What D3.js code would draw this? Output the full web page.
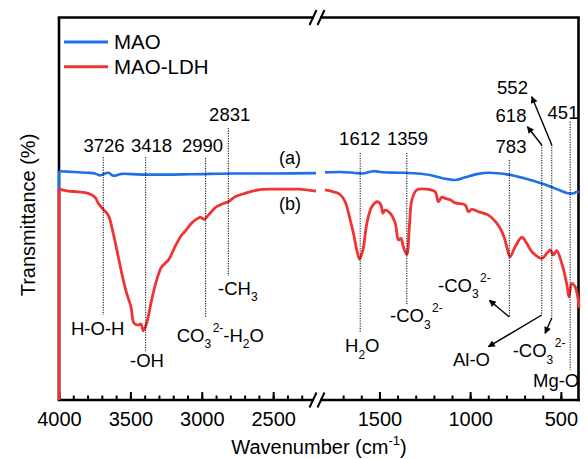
<!DOCTYPE html>
<html>
<head>
<meta charset="utf-8">
<script src="https://cdn.jsdelivr.net/npm/d3@7"></script>
<style>
  body { margin: 0; background: #fff; }
  svg { font-family: 'Liberation Sans', Arial, sans-serif; }
</style>
</head>
<body>
<svg width="588" height="459"></svg>
<script>
// [wavenumber, transmittance (a.u.)]
const maoLeft = [[4000, 0], [4000, 59.9], [3900, 59.7], [3797, 59.5], [3748, 59.3], [3713, 58.8],
  [3655, 59.5], [3620, 58.7], [3561, 59.2], [3420, 59.0], [3080, 59.1], [2800, 59.3], [2500, 59.3], [2200, 59.4]];
const maoRight = [[1800, 59.6], [1717, 59.7], [1643, 59.5], [1588, 59.3], [1533, 59.9], [1478, 59.6],
  [1386, 59.5], [1294, 59.3], [1221, 58.9], [1147, 58.0], [1083, 57.6], [1028, 58.3], [955, 59.2],
  [899, 59.5], [789, 59.0], [697, 58.0], [605, 56.7], [532, 55.4], [459, 54.1], [431, 54.1], [412, 54.5], [400, 54.3]];
const ldhLeft = [[4000, 0], [4000, 55.2], [3935, 54.7], [3865, 54.5], [3795, 54.1], [3748, 53.1], [3725, 51.5],
  [3690, 49.9], [3655, 48.4], [3620, 43.6], [3585, 37.5], [3550, 31.4], [3526, 27.9], [3496, 24.4],
  [3475, 20.1], [3445, 19.6], [3426, 19.9], [3410, 18.1], [3386, 20.1], [3351, 26.2], [3316, 31.4],
  [3281, 34.9], [3234, 36.6], [3188, 40.1], [3141, 43.2], [3118, 44.1], [3071, 46.3], [3012, 47.8],
  [2982, 47.3], [2954, 48.4], [2896, 50.6], [2837, 51.6], [2814, 51.9], [2767, 53.2], [2697, 54.1],
  [2604, 55.0], [2510, 55.2], [2417, 55.2], [2324, 55.2], [2200, 54.7]];
const ldhRight = [[1800, 55.0], [1753, 54.5], [1717, 53.8], [1689, 51.9], [1661, 47.1], [1643, 43.6],
  [1625, 39.3], [1610, 36.9], [1591, 39.3], [1569, 46.3], [1542, 50.6], [1511, 51.9], [1492, 51.1],
  [1481, 48.9], [1469, 49.7], [1441, 48.9], [1413, 46.3], [1395, 41.9], [1382, 42.3], [1368, 40.1],
  [1349, 38.1], [1335, 45.4], [1321, 52.4], [1294, 55.0], [1239, 55.2], [1193, 54.5], [1175, 51.9],
  [1156, 53.1], [1138, 52.8], [1110, 52.4], [1083, 51.6], [1028, 51.1], [1010, 49.3], [991, 49.9],
  [955, 49.3], [899, 48.4], [853, 46.3], [817, 43.2], [798, 40.1], [780, 37.5], [752, 40.1], [715, 42.6],
  [688, 41.0], [660, 38.8], [605, 37.1], [577, 38.4], [559, 39.3], [541, 38.0], [523, 39.1], [495, 35.8],
  [468, 30.5], [455, 27.0], [440, 30.5], [422, 29.7], [404, 26.2], [400, 24.1]];

const leftTicks = [4000, 3900, 3800, 3700, 3600, 3500, 3400, 3300, 3200, 3100, 3000, 2900, 2800, 2700, 2600, 2500, 2400, 2300];
const rightTicks = [1700, 1600, 1500, 1400, 1300, 1200, 1100, 1000, 900, 800, 700, 600, 500];
const leftLabels = [4000, 3500, 3000, 2500];
const rightLabels = [1500, 1000, 500];

const peakLabels = ['3726', '3418', '2990', '2831', '1612', '1359', '783', '618', '552', '451'];
const peakPos = [3690, 3393, 2973, 2814, 1606, 1349, 784, 605, 550, 449];
const groupLabels = [
  [['H-O-H']],
  [['-OH']],
  [['CO'], ['3', 'sub'], ['2-', 'sup'], ['-H'], ['2', 'sub'], ['O']],
  [['-CH'], ['3', 'sub']],
  [['H'], ['2', 'sub'], ['O']],
  [['-CO'], ['3', 'sub'], ['2-', 'sup']],
  [['-CO'], ['3', 'sub'], ['2-', 'sup']],
  [['Al-O']],
  [['-CO'], ['3', 'sub'], ['2-', 'sup']],
  [['Mg-O']]
];
const seriesNames = ['MAO', 'MAO-LDH'];
const colors = ['#1f6fe6', '#f03434'];

const svg = d3.select('svg');
const plotLeft = 59, plotRight = 578.5, plotTop = 17.5, plotBottom = 400;
const xL = d3.scaleLinear().domain([4000, 2200]).range([59, 316]);
const xR = d3.scaleLinear().domain([1800, 400]).range([325, 579]);
const y = d3.scaleLinear().domain([0, 100]).range([plotBottom, 18]);

const smooth = sx => d3.line().x(d => sx(d[0])).y(d => y(d[1])).curve(d3.curveCatmullRom.alpha(0.5));
const straight = sx => d3.line().x(d => sx(d[0])).y(d => y(d[1]));

// frame
const frame = svg.append('g').attr('stroke', '#000').attr('stroke-width', 2.6).attr('fill', 'none');
frame.append('line').attr('x1', plotLeft).attr('x2', plotLeft).attr('y1', plotTop).attr('y2', plotBottom);
frame.append('line').attr('x1', plotRight).attr('x2', plotRight).attr('y1', plotTop).attr('y2', plotBottom + 1.3);
[plotTop, plotBottom].forEach(yy => {
  frame.append('line').attr('x1', plotLeft - 1.3).attr('x2', 314).attr('y1', yy).attr('y2', yy);
  frame.append('line').attr('x1', 320).attr('x2', plotRight + 1.3).attr('y1', yy).attr('y2', yy);
  [313, 321].forEach(cx => {
    frame.append('line').attr('stroke-width', 2)
      .attr('x1', cx - 3.5).attr('y1', yy + 7.5).attr('x2', cx + 3.5).attr('y2', yy - 7.5);
  });
});

// ticks
const drawAxis = (sx, ticks, labels) => {
  const minor = svg.append('g').attr('transform', `translate(0,${plotBottom})`)
    .call(d3.axisBottom(sx).tickValues(ticks).tickSize(-4.5).tickFormat(''));
  const major = svg.append('g').attr('transform', `translate(0,${plotBottom})`)
    .call(d3.axisBottom(sx).tickValues(labels).tickSize(-8).tickPadding(12).tickFormat(d3.format('d')));
  [minor, major].forEach(g => {
    g.select('.domain').remove();
    g.selectAll('line').attr('stroke-width', 2);
  });
  major.selectAll('text').attr('font-size', 20).attr('fill', '#000')
    .attr('font-family', "'Liberation Sans', Arial, sans-serif");
};
drawAxis(xL, leftTicks, leftLabels);
drawAxis(xR, rightTicks, rightLabels);

// curves (first pair of left points is the vertical start along the axis)
[[maoLeft, maoRight], [ldhLeft, ldhRight]].forEach((pair, i) => {
  const w = i ? 2.8 : 2.6;
  svg.append('path').attr('d', straight(xL)(pair[0].slice(0, 2)))
    .attr('fill', 'none').attr('stroke', colors[i]).attr('stroke-width', w);
  svg.append('path').attr('d', smooth(xL)(pair[0].slice(1)))
    .attr('fill', 'none').attr('stroke', colors[i]).attr('stroke-width', w);
  svg.append('path').attr('d', smooth(xR)(pair[1]))
    .attr('fill', 'none').attr('stroke', colors[i]).attr('stroke-width', w);
});

// legend
seriesNames.forEach((name, i) => {
  const ly = 42 + i * 24.7;
  svg.append('line').attr('x1', 64).attr('x2', 108).attr('y1', ly).attr('y2', ly)
    .attr('stroke', colors[i]).attr('stroke-width', 3);
  svg.append('text').attr('x', 114).attr('y', ly + 7.3).attr('font-size', 20.5).text(name);
});

svg.append('text').attr('x', 279).attr('y', 163.5).attr('font-size', 18).text('(a)');
svg.append('text').attr('x', 279).attr('y', 210).attr('font-size', 18).text('(b)');

// annotations: dotted line ends, number label anchor, group label start
const annot = [
  { lt: 157, lb: 315, tx: 104, ty: 152.2, gx: 71, gy: 334.5 },
  { lt: 157, lb: 352, tx: 151.5, ty: 152.2, gx: 130, gy: 366.5 },
  { lt: 158, lb: 317, tx: 202.5, ty: 152.2, gx: 176.7, gy: 341.7 },
  { lt: 128, lb: 276, tx: 229.7, ty: 120.8, gx: 218, gy: 294.5 },
  { lt: 153, lb: 332, tx: 359.7, ty: 144.8, gx: 345, gy: 352 },
  { lt: 153, lb: 305, tx: 407.5, ty: 144.8, gx: 390, gy: 322 },
  { lt: 160, lb: 317, tx: 511, ty: 153.2, gx: 438, gy: 291.7 },
  { lt: 145, lb: 315, tx: 511, ty: 121.5, gx: 453, gy: 366 },
  { lt: 145, lb: 318, tx: 512.5, ty: 93.8, gx: 512.7, gy: 357 },
  { lt: 121.7, lb: 370, tx: 563, ty: 118.8, gx: 533, gy: 386.5 }
];

const ann = svg.append('g');
peakPos.forEach((p, i) => {
  const a = annot[i];
  const px = i < 4 ? xL(p) : xR(p);
  ann.append('line').attr('x1', px).attr('x2', px).attr('y1', a.lt).attr('y2', a.lb)
    .attr('stroke', '#000').attr('stroke-width', 1).attr('stroke-dasharray', '1.2,1.3');
  ann.append('text').attr('x', a.tx).attr('y', a.ty).attr('text-anchor', 'middle')
    .attr('font-size', 18.5).text(peakLabels[i]);
  const t = ann.append('text').attr('x', a.gx).attr('y', a.gy).attr('font-size', 18.5);
  let shift = 0;
  groupLabels[i].forEach(([s, kind]) => {
    const target = kind === 'sub' ? 6.5 : kind === 'sup' ? -10 : 0;
    t.append('tspan').attr('dy', target - shift)
      .attr('font-size', kind ? 12 : 18.5)
      .attr('dx', kind === 'sup' ? 1.5 : 0)
      .text(s);
    shift = target;
  });
});

// arrows
svg.append('defs').append('marker').attr('id', 'head')
  .attr('viewBox', '0 0 10 10').attr('refX', 9).attr('refY', 5)
  .attr('markerWidth', 9).attr('markerHeight', 7).attr('markerUnits', 'userSpaceOnUse')
  .attr('orient', 'auto')
  .append('path').attr('d', 'M0,0L10,5L0,10Z').attr('fill', '#000');

const arrows = [
  { i: 6, end: 'lb', dx: -20, dy: -16.7 },
  { i: 7, end: 'lt', dx: -14.4, dy: -18.3 },
  { i: 7, end: 'lb', dx: -53.4, dy: 31.7 },
  { i: 8, end: 'lt', dx: -20, dy: -48.3 },
  { i: 8, end: 'lb', dx: -6.7, dy: 15.3 }
];
arrows.forEach(a => {
  const x0 = xR(peakPos[a.i]);
  const y0 = annot[a.i][a.end];
  svg.append('line').attr('x1', x0).attr('y1', y0).attr('x2', x0 + a.dx).attr('y2', y0 + a.dy)
    .attr('stroke', '#000').attr('stroke-width', 1.4).attr('marker-end', 'url(#head)');
});

// axis titles
const xt = svg.append('text').attr('x', 319).attr('y', 454).attr('text-anchor', 'middle').attr('font-size', 20);
xt.append('tspan').text('Wavenumber (cm');
xt.append('tspan').attr('font-size', 13).attr('dy', -9).text('-1');
xt.append('tspan').attr('dy', 9).text(')');

svg.append('text').attr('transform', 'translate(35,215) rotate(-90)')
  .attr('text-anchor', 'middle').attr('font-size', 20).text('Transmittance (%)');
</script>
</body>
</html>
